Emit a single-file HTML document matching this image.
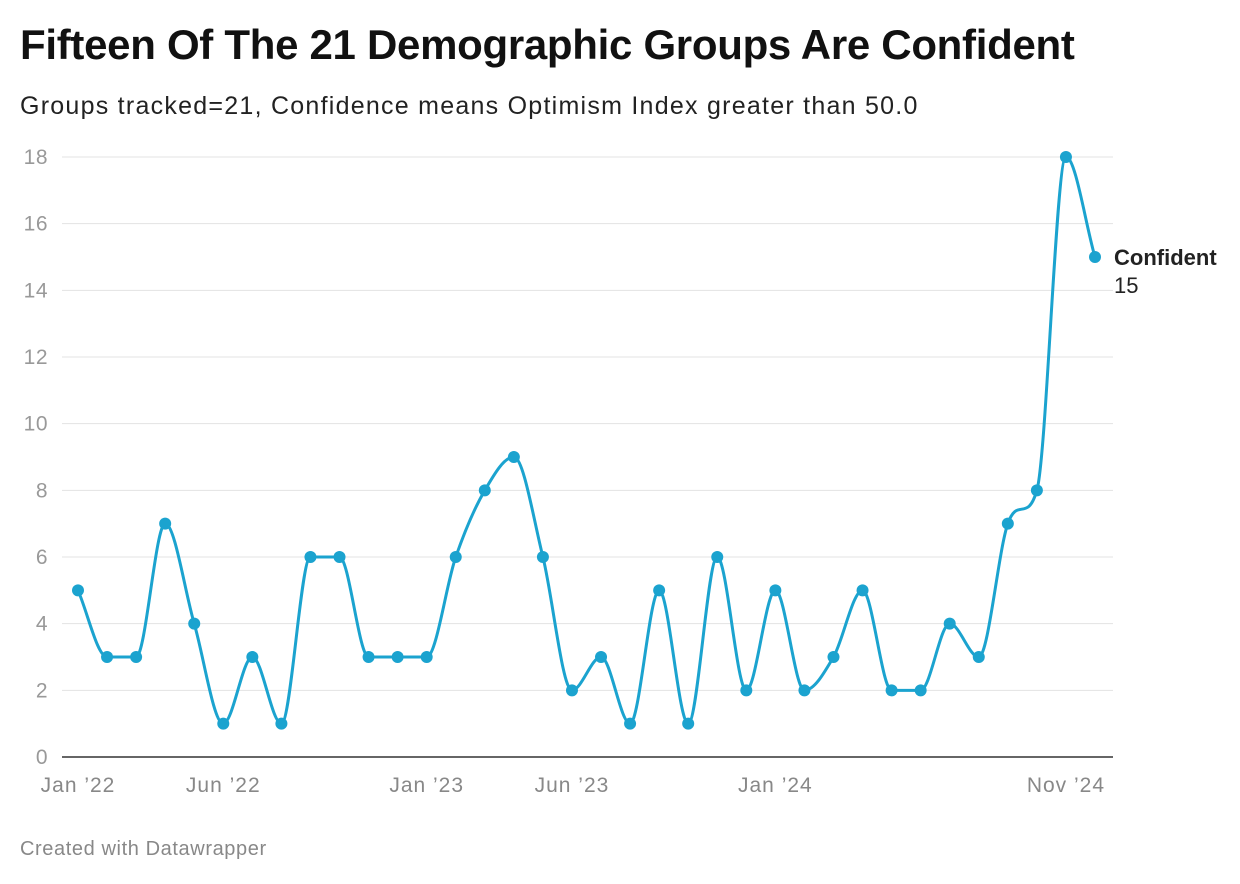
<!DOCTYPE html>
<html><head><meta charset="utf-8"><style>
body{margin:0;background:#fff;font-family:"Liberation Sans",sans-serif;}
#wrap{position:relative;width:1240px;height:884px;overflow:hidden}
h1{position:absolute;left:20px;top:21px;margin:0;font-size:42px;font-weight:bold;color:#111;letter-spacing:-0.3px}
.sub{position:absolute;left:20px;top:92px;font-size:25px;color:#222;letter-spacing:1.25px}
.foot{position:absolute;left:20px;top:838px;font-size:20px;color:#888;letter-spacing:0.6px}
</style></head><body><div id="wrap">
<h1>Fifteen Of The 21 Demographic Groups Are Confident</h1>
<div class="sub">Groups tracked=21, Confidence means Optimism Index greater than 50.0</div>
<svg id="chart" width="1240" height="884" style="position:absolute;left:0;top:0"></svg>
<div class="foot">Created with Datawrapper</div>
</div>
<script>
const values=[5,3,3,7,4,1,3,1,6,6,3,3,3,6,8,9,6,2,3,1,5,1,6,2,5,2,3,5,2,2,4,3,7,8,18,15];
const yTicks=[0,2,4,6,8,10,12,14,16,18];
const xTickIdx=[0,5,12,17,24,34];
const xTickLabels=["Jan \u201922","Jun \u201922","Jan \u201923","Jun \u201923","Jan \u201924","Nov \u201924"];
const NS="http://www.w3.org/2000/svg",svg=document.getElementById('chart');
const x=i=>78+i*(1095-78)/(values.length-1);
const y=v=>757-v*(600/18);
function mk(t,a,txt){const e=document.createElementNS(NS,t);for(const k in a)e.setAttribute(k,a[k]);if(txt!==undefined)e.textContent=txt;svg.appendChild(e);return e;}
yTicks.forEach(t=>{
 const l=mk('line',{x1:62,x2:1113,y1:y(t),y2:y(t),stroke:t===0?'#333':'#e3e3e3','stroke-width':t===0?1.5:1});
 
 
 const tx=mk('text',{x:48,y:y(t)+7,'text-anchor':'end','font-size':21,fill:'#999','font-family':'Liberation Sans','letter-spacing':0.5},t);
 
 
});
xTickIdx.forEach((ix,k)=>{
 const tx=mk('text',{x:x(ix),y:792,'text-anchor':'middle','font-size':21,fill:'#888','font-family':'Liberation Sans','letter-spacing':1},xTickLabels[k]);
 
 
});
const P=values.map((v,i)=>[x(i),y(v)]);
const n=P.length,sl=[],t=[];
for(let i=0;i<n-1;i++)sl.push((P[i+1][1]-P[i][1])/(P[i+1][0]-P[i][0]));
for(let i=0;i<n;i++){
 if(i===0)t.push(sl[0]);else if(i===n-1)t.push(sl[n-2]);
 else{const a=sl[i-1],b=sl[i];t.push(a*b<=0?0:Math.sign(a)*Math.min(Math.abs(a)*3,Math.abs(b)*3,Math.abs((a+b)/2)));}
}
let d='M'+P[0][0]+','+P[0][1];
for(let i=0;i<n-1;i++){
 const h=(P[i+1][0]-P[i][0])/3;
 d+=`C${P[i][0]+h},${P[i][1]+h*t[i]} ${P[i+1][0]-h},${P[i+1][1]-h*t[i+1]} ${P[i+1][0]},${P[i+1][1]}`;
}
const path=mk('path',{d:d,fill:'none',stroke:'#1ba3cf','stroke-width':3});


P.forEach(p=>{
 const c=mk('circle',{cx:p[0],cy:p[1],r:6,fill:'#1ba3cf'});
 
 
});
const last=P[n-1];
const lb=mk('text',{x:1114,y:last[1]+8,'font-size':22,'font-weight':'bold',fill:'#222','font-family':'Liberation Sans'},'Confident');


const lv=mk('text',{x:1114,y:last[1]+36,'font-size':22,fill:'#222','font-family':'Liberation Sans'},values[n-1]);


</script></body></html>
